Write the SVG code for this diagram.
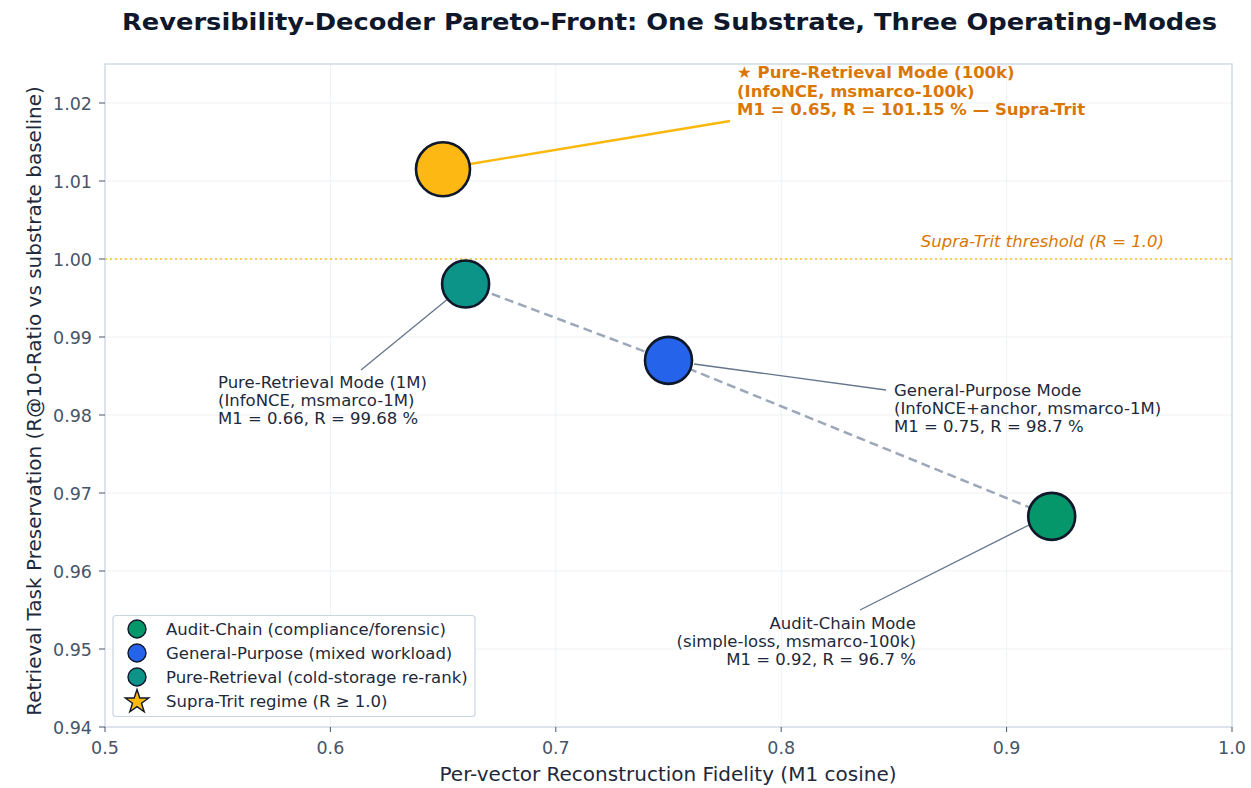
<svg xmlns="http://www.w3.org/2000/svg" width="1251" height="788" viewBox="0 0 1251 788">
  <style>
    text { font-family: "DejaVu Sans", "Liberation Sans", sans-serif; }
    .title { font-size: 23px; font-weight: bold; fill: #0f172a; }
    .tick { font-size: 17.5px; fill: #475569; }
    .axlabel { font-size: 20px; fill: #1e293b; }
    .grid { stroke: #eef1f5; stroke-width: 1; }
    .tickmark { stroke: #475569; stroke-width: 1; }
    .ann { font-size: 16.5px; fill: #1e293b; }
    .ann-gold { font-size: 16.5px; font-weight: bold; fill: #d97706; }
    .leader { stroke: #64748b; stroke-width: 1.3; fill: none; }
    .pt { stroke: #0f172a; stroke-width: 2.6; }
    .leg { font-size: 16.5px; fill: #1e293b; }
    .legmark { stroke: #0f172a; stroke-width: 1.4; }
  </style>

  <rect width="1251" height="788" fill="#ffffff"/>

  <text class="title" x="669.5" y="30" text-anchor="middle" textLength="1095" lengthAdjust="spacingAndGlyphs">Reversibility-Decoder Pareto-Front: One Substrate, Three Operating-Modes</text>

  <!-- grid -->
  <g id="grid">
    <line class="grid" x1="330.4" y1="64" x2="330.4" y2="727"/>
    <line class="grid" x1="555.8" y1="64" x2="555.8" y2="727"/>
    <line class="grid" x1="781.2" y1="64" x2="781.2" y2="727"/>
    <line class="grid" x1="1006.6" y1="64" x2="1006.6" y2="727"/>
    <line class="grid" x1="105" y1="103" x2="1232" y2="103"/>
    <line class="grid" x1="105" y1="181" x2="1232" y2="181"/>
    <line class="grid" x1="105" y1="259" x2="1232" y2="259"/>
    <line class="grid" x1="105" y1="337" x2="1232" y2="337"/>
    <line class="grid" x1="105" y1="415" x2="1232" y2="415"/>
    <line class="grid" x1="105" y1="493" x2="1232" y2="493"/>
    <line class="grid" x1="105" y1="571" x2="1232" y2="571"/>
    <line class="grid" x1="105" y1="649" x2="1232" y2="649"/>
  </g>

  <!-- threshold line -->
  <g id="threshold">
    <line x1="105" y1="259" x2="1232" y2="259" stroke="#fbbf24" stroke-width="1.6" stroke-dasharray="2,3"/>
    <text x="1164" y="247" text-anchor="end" font-size="16.5" font-style="italic" fill="#d97706">Supra-Trit threshold (R = 1.0)</text>
  </g>

  <!-- axes frame and ticks -->
  <g id="axes">
    <rect x="105" y="64" width="1127" height="663" fill="none" stroke="#cbd5e1" stroke-width="1.3"/>
    <g class="tickmark">
      <line x1="105" y1="727" x2="105" y2="732"/>
      <line x1="330.4" y1="727" x2="330.4" y2="732"/>
      <line x1="555.8" y1="727" x2="555.8" y2="732"/>
      <line x1="781.2" y1="727" x2="781.2" y2="732"/>
      <line x1="1006.6" y1="727" x2="1006.6" y2="732"/>
      <line x1="1232" y1="727" x2="1232" y2="732"/>
      <line x1="99" y1="103" x2="105" y2="103"/>
      <line x1="99" y1="181" x2="105" y2="181"/>
      <line x1="99" y1="259" x2="105" y2="259"/>
      <line x1="99" y1="337" x2="105" y2="337"/>
      <line x1="99" y1="415" x2="105" y2="415"/>
      <line x1="99" y1="493" x2="105" y2="493"/>
      <line x1="99" y1="571" x2="105" y2="571"/>
      <line x1="99" y1="649" x2="105" y2="649"/>
      <line x1="99" y1="727" x2="105" y2="727"/>
    </g>
    <g class="tick" text-anchor="middle">
      <text x="105" y="754">0.5</text>
      <text x="330.4" y="754">0.6</text>
      <text x="555.8" y="754">0.7</text>
      <text x="781.2" y="754">0.8</text>
      <text x="1006.6" y="754">0.9</text>
      <text x="1232" y="754">1.0</text>
    </g>
    <g class="tick" text-anchor="end">
      <text x="92" y="109.5">1.02</text>
      <text x="92" y="187.5">1.01</text>
      <text x="92" y="265.5">1.00</text>
      <text x="92" y="343.5">0.99</text>
      <text x="92" y="421.5">0.98</text>
      <text x="92" y="499.5">0.97</text>
      <text x="92" y="577.5">0.96</text>
      <text x="92" y="655.5">0.95</text>
      <text x="92" y="733.5">0.94</text>
    </g>
    <text class="axlabel" x="668" y="781" text-anchor="middle">Per-vector Reconstruction Fidelity (M1 cosine)</text>
    <text class="axlabel" transform="translate(41,401) rotate(-90)" text-anchor="middle">Retrieval Task Preservation (R@10-Ratio vs substrate baseline)</text>
  </g>

  <!-- connectors: pareto front and annotation leaders -->
  <g id="connectors">
    <polyline points="465.6,284 668.5,360.4 1051.7,516.4" fill="none" stroke="#9ca8b9" stroke-width="2.5" stroke-dasharray="9,5"/>
    <line x1="470" y1="164" x2="730" y2="121" stroke="#fbb80c" stroke-width="2.4"/>
    <line class="leader" x1="361" y1="370" x2="449" y2="298"/>
    <line class="leader" x1="694" y1="364" x2="886" y2="390"/>
    <line class="leader" x1="860" y1="610" x2="1031" y2="524"/>
  </g>

  <!-- operating-mode points -->
  <g id="node-supra">
    <circle class="pt" cx="443" cy="169.3" r="27" fill="#fdb813"/>
    <text class="ann-gold" x="737" y="78">★ Pure-Retrieval Mode (100k)</text>
    <text class="ann-gold" x="737" y="96.5">(InfoNCE, msmarco-100k)</text>
    <text class="ann-gold" x="737" y="115">M1 = 0.65, R = 101.15 % — Supra-Trit</text>
  </g>

  <g id="node-pure-retrieval">
    <circle class="pt" cx="465.6" cy="284" r="23.5" fill="#0d9488"/>
    <text class="ann" x="218" y="388">Pure-Retrieval Mode (1M)</text>
    <text class="ann" x="218" y="406">(InfoNCE, msmarco-1M)</text>
    <text class="ann" x="218" y="424">M1 = 0.66, R = 99.68 %</text>
  </g>

  <g id="node-general">
    <circle class="pt" cx="668.5" cy="360.4" r="23.5" fill="#2563eb"/>
    <text class="ann" x="894" y="396">General-Purpose Mode</text>
    <text class="ann" x="894" y="414">(InfoNCE+anchor, msmarco-1M)</text>
    <text class="ann" x="894" y="432">M1 = 0.75, R = 98.7 %</text>
  </g>

  <g id="node-audit">
    <circle class="pt" cx="1051.7" cy="516.4" r="23.5" fill="#059669"/>
    <g text-anchor="end">
      <text class="ann" x="916" y="629">Audit-Chain Mode</text>
      <text class="ann" x="916" y="647">(simple-loss, msmarco-100k)</text>
      <text class="ann" x="916" y="665">M1 = 0.92, R = 96.7 %</text>
    </g>
  </g>

  <!-- legend -->
  <g id="legend">
    <rect x="113" y="615.5" width="362" height="101" rx="3" fill="#ffffff" fill-opacity="0.95" stroke="#cbd5e1" stroke-width="1.2"/>
    <circle class="legmark" cx="137" cy="629" r="9" fill="#059669"/>
    <circle class="legmark" cx="137" cy="653" r="9" fill="#2563eb"/>
    <circle class="legmark" cx="137" cy="677" r="9" fill="#0d9488"/>
    <polygon class="legmark" fill="#fdb813" points="137,689.5 139.8,698 148.7,698 141.5,703.3 144.2,711.8 137,706.6 129.8,711.8 132.5,703.3 125.3,698 134.2,698"/>
    <text class="leg" x="166" y="634.5">Audit-Chain (compliance/forensic)</text>
    <text class="leg" x="166" y="658.5">General-Purpose (mixed workload)</text>
    <text class="leg" x="166" y="682.5">Pure-Retrieval (cold-storage re-rank)</text>
    <text class="leg" x="166" y="706.5">Supra-Trit regime (R ≥ 1.0)</text>
  </g>
</svg>
